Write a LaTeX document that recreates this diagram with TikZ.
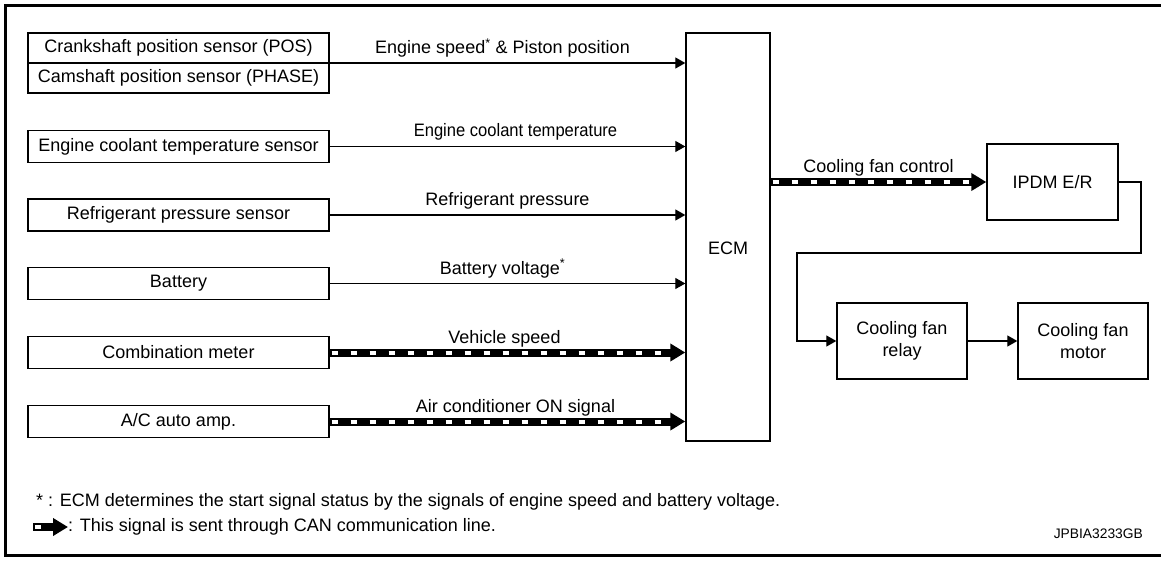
\documentclass[tikz,border=0pt]{standalone}
\usepackage{fontspec}
\setmainfont{Liberation Sans}
\usetikzlibrary{arrows.meta}
\newcommand{\bigf}{\fontsize{18pt}{21.5pt}\selectfont}
\newcommand{\labf}{\fontsize{18pt}{21pt}\selectfont}
\newcommand{\smallf}{\fontsize{13.8pt}{16pt}\selectfont}
\begin{document}
\begin{tikzpicture}[x=1pt,y=-1pt,
  box/.style={draw, line width=1.4pt, inner sep=0pt, font=\bigf, align=center},
  sensor/.style={box, minimum width=301pt, minimum height=32pt},
  unit/.style={box, minimum width=130pt, minimum height=76pt},
  sig/.style={line width=1.3pt, -{Triangle[length=10pt,width=11pt]}},
  can/.style={line width=8pt, -{Triangle[length=15pt,width=17pt]},
    postaction={draw=white, line width=4pt, dash pattern=on 6pt off 13pt, dash phase=-2pt, -, shorten >=16pt}},
  lab/.style={font=\labf, anchor=base, yshift=9.5pt, inner sep=0pt},
  txt/.style={font=\labf, anchor=west, inner sep=0pt},
]
\useasboundingbox (0,0) rectangle (1161,561);
% frame
\draw[line width=3pt] (1161,6) -- (5,6) -- (5,555) -- (1161,555);

% sensors
\node[box, minimum width=301pt, minimum height=60pt] (crank) at (178.5,63) {};
\node[font=\bigf, inner sep=0pt] (crank1) at (178.5,48) {Crankshaft position sensor (POS)};
\node[font=\bigf, inner sep=0pt] (crank2) at (178.5,78) {Camshaft position sensor (PHASE)};
\draw[line width=1.4pt] (crank.west) -- (crank.east);
\node[sensor] (ect) at (178.5,146.5) {Engine coolant temperature sensor};
\node[sensor] (refr) at (178.5,215) {Refrigerant pressure sensor};
\node[sensor] (batt) at (178.5,283.5) {Battery};
\node[sensor] (comb) at (178.5,352.5) {Combination meter};
\node[sensor] (ac) at (178.5,421.5) {A/C auto amp.};

% ECM
\node[box, minimum width=84pt, minimum height=408pt] (ecm) at (728,237) {};
\node[font=\bigf] (ecmlab) at (728,248) {ECM};

% outputs
\node[unit, minimum width=131pt] (ipdm) at (1052.5,182) {IPDM E/R};
\node[unit] (relay) at (902,341) {Cooling fan\\relay};
\node[unit] (motor) at (1083,341) {Cooling fan\\motor};

% input connectors
\draw[sig] (crank.east) -- (crank.east -| ecm.west)
  node[midway, lab, xshift=-5pt] {Engine speed\textsuperscript{*} \& Piston position};
\draw[sig] (ect.east) -- (ect.east -| ecm.west)
  node[midway, lab, xshift=8pt] {\scalebox{0.92}[1]{Engine coolant temperature}};
\draw[sig] (refr.east) -- (refr.east -| ecm.west)
  node[midway, lab] {Refrigerant pressure};
\draw[sig] (batt.east) -- (batt.east -| ecm.west)
  node[midway, lab, xshift=-5pt] {Battery voltage\textsuperscript{*}};
\draw[can] (comb.east) -- (comb.east -| ecm.west)
  node[midway, lab, xshift=-3pt] {Vehicle speed};
\draw[can] (ac.east) -- (ac.east -| ecm.west)
  node[midway, lab, xshift=8pt] {Air conditioner ON signal};

% output connectors
\draw[can] (ecm.east |- ipdm.west) -- (ipdm.west)
  node[midway, lab] {Cooling fan control};
\coordinate (c1) at (1141,253);
\coordinate (c2) at (797,253);
\draw[sig] (ipdm.east) -| (c1) -- (c2) |- (relay.west);
\draw[sig] (relay.east) -- (motor.west);

% notes
\node[txt] (fn) at (36,502) {* : ECM determines the start signal status by the signals of engine speed and battery voltage.};
\coordinate (l1) at (33,527);
\coordinate (l2) at (68,527);
\draw[can] (l1) -- (l2);
\node[txt] (leg) at (l2) {: This signal is sent through CAN communication line.};
\node[font=\smallf, anchor=east, inner sep=0pt] (code) at (1143,534) {JPBIA3233GB};
\end{tikzpicture}
\end{document}
